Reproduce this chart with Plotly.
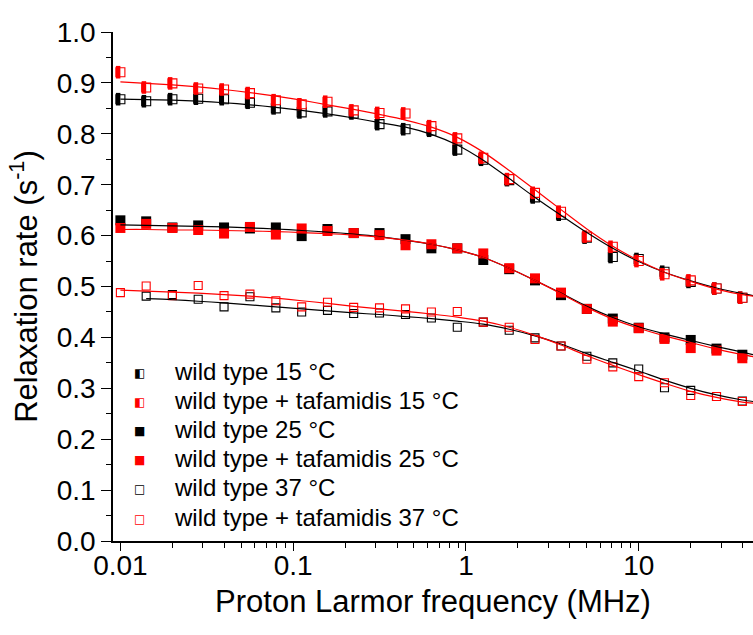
import plotly.graph_objects as go

# ---------------- data ----------------
freq_mhz = [0.01, 0.0141, 0.02, 0.0282, 0.0398, 0.0562, 0.0794, 0.112, 0.158, 0.224,
            0.316, 0.447, 0.631, 0.891, 1.26, 1.78, 2.51, 3.55, 5.01, 7.08,
            10.0, 14.1, 20.0, 28.2, 39.8]

wt_15 = [0.868, 0.864, 0.868, 0.869, 0.868, 0.861, 0.850, 0.842, 0.844, 0.840,
         0.819, 0.809, 0.806, 0.769, 0.749, 0.709, 0.675, 0.641, 0.596, 0.558,
         0.554, 0.529, 0.509, 0.496, 0.478]
wt_taf_15 = [0.921, 0.891, 0.899, 0.889, 0.887, 0.880, 0.866, 0.858, 0.863, 0.846,
             0.841, 0.840, 0.815, 0.791, 0.753, 0.711, 0.684, 0.647, 0.598, 0.578,
             0.550, 0.524, 0.512, 0.496, 0.478]
wt_25 = [0.630, 0.628, 0.616, 0.620, 0.616, 0.614, 0.616, 0.599, 0.613, 0.605,
         0.605, 0.593, 0.575, 0.575, 0.552, 0.534, 0.512, 0.483, 0.456, 0.437,
         0.419, 0.400, 0.395, 0.378, 0.366]
wt_taf_25 = [0.615, 0.623, 0.615, 0.611, 0.604, 0.617, 0.602, 0.614, 0.609, 0.605,
             0.601, 0.581, 0.583, 0.575, 0.565, 0.536, 0.516, 0.488, 0.456, 0.431,
             0.418, 0.397, 0.379, 0.374, 0.359]
wt_37 = [None, 0.481, 0.484, 0.475, 0.460, 0.480, 0.458, 0.450, 0.453, 0.447,
         0.448, 0.445, 0.438, 0.420, 0.430, 0.414, 0.399, 0.383, 0.363, 0.350,
         0.338, 0.301, 0.296, 0.284, 0.275]
wt_taf_37 = [0.488, 0.501, 0.482, 0.502, 0.482, 0.485, 0.472, 0.460, 0.469, 0.459,
             0.458, 0.456, 0.450, 0.451, 0.430, 0.420, 0.396, 0.383, 0.357, 0.342,
             0.323, 0.311, 0.286, 0.284, 0.274]

# fitted curves
fit_freq_mhz = [0.01, 0.0141, 0.02, 0.0282, 0.0398, 0.0562, 0.0794, 0.112, 0.158, 0.224,
                0.316, 0.447, 0.631, 0.891, 1.26, 1.78, 2.51, 3.55, 5.01, 7.08,
                10.0, 14.1, 20.0, 28.2, 39.8, 46.0]
fit_wt_15 = [0.868, 0.867, 0.866, 0.864, 0.861, 0.857, 0.852, 0.846, 0.839, 0.831,
             0.822, 0.813, 0.799, 0.778, 0.748, 0.712, 0.675, 0.640, 0.606, 0.575,
             0.549, 0.528, 0.511, 0.497, 0.486, 0.482]
fit_wt_taf_15 = [0.902, 0.899, 0.896, 0.892, 0.887, 0.881, 0.874, 0.866, 0.857, 0.848,
                 0.838, 0.827, 0.813, 0.793, 0.764, 0.728, 0.690, 0.651, 0.613, 0.579,
                 0.551, 0.528, 0.510, 0.495, 0.484, 0.481]
fit_wt_25 = [0.621, 0.620, 0.619, 0.618, 0.617, 0.615, 0.613, 0.610, 0.607, 0.603,
             0.598, 0.591, 0.583, 0.572, 0.557, 0.536, 0.512, 0.487, 0.461, 0.439,
             0.421, 0.407, 0.394, 0.382, 0.371, 0.366]
fit_wt_taf_25 = [0.612, 0.612, 0.611, 0.611, 0.610, 0.609, 0.608, 0.606, 0.604, 0.601,
                 0.597, 0.591, 0.583, 0.572, 0.557, 0.536, 0.512, 0.486, 0.459, 0.436,
                 0.418, 0.403, 0.390, 0.377, 0.366, 0.362]
fit_wt_37 = [None, 0.476, 0.474, 0.471, 0.468, 0.464, 0.460, 0.456, 0.452, 0.448,
             0.445, 0.441, 0.437, 0.432, 0.426, 0.416, 0.403, 0.387, 0.368, 0.351,
             0.334, 0.316, 0.300, 0.287, 0.277, 0.274]
fit_wt_taf_37 = [0.493, 0.491, 0.489, 0.487, 0.484, 0.481, 0.477, 0.472, 0.467, 0.461,
                 0.456, 0.451, 0.446, 0.440, 0.432, 0.420, 0.404, 0.385, 0.364, 0.345,
                 0.327, 0.310, 0.294, 0.282, 0.273, 0.271]

legend_labels = ["wild type 15 °C", "wild type + tafamidis 15 °C",
                 "wild type 25 °C", "wild type + tafamidis 25 °C",
                 "wild type 37 °C", "wild type + tafamidis 37 °C"]
legend_glyphs = ["◧", "◧", "■", "■", "□", "□"]
legend_colors = ["#000000", "#ff0000", "#000000", "#ff0000", "#000000", "#ff0000"]

x_tickvals = [0.01, 0.1, 1, 10]
x_ticktext = ["0.01", "0.1", "1", "10"]
x_minor_vals = [m * d for d in (0.01, 0.1, 1, 10) for m in range(2, 10)]

BLACK = "#000000"
RED = "#ff0000"
FONT = "Liberation Sans, Arial, sans-serif"

fig = go.Figure()


def half_filled(y, color, name):
    # white square with coloured border
    fig.add_trace(go.Scatter(x=freq_mhz, y=y, mode="markers", name=name, showlegend=False,
                             marker=dict(symbol="square", size=9, color="white",
                                         line=dict(color=color, width=1.1))))
    # left half filled (vertical bar shifted left)
    fig.add_trace(go.Scatter(x=freq_mhz, y=y, mode="markers", showlegend=False, hoverinfo="skip",
                             marker=dict(symbol="line-ew", size=9, color=color, angle=90,
                                         standoff=2.25, line=dict(color=color, width=4.5))))


half_filled(wt_15, BLACK, legend_labels[0])
half_filled(wt_taf_15, RED, legend_labels[1])
for y, c, n in [(wt_25, BLACK, legend_labels[2]), (wt_taf_25, RED, legend_labels[3])]:
    fig.add_trace(go.Scatter(x=freq_mhz, y=y, mode="markers", name=n, showlegend=False,
                             marker=dict(symbol="square", size=10, color=c, line=dict(width=0))))
for y, c, n in [(wt_37, BLACK, legend_labels[4]), (wt_taf_37, RED, legend_labels[5])]:
    fig.add_trace(go.Scatter(x=freq_mhz, y=y, mode="markers", name=n, showlegend=False,
                             marker=dict(symbol="square-open", size=8, color=c,
                                         line=dict(color=c, width=1.1))))

for y, c in [(fit_wt_15, BLACK), (fit_wt_taf_15, RED), (fit_wt_25, BLACK),
             (fit_wt_taf_25, RED), (fit_wt_37, BLACK), (fit_wt_taf_37, RED)]:
    fig.add_trace(go.Scatter(x=fit_freq_mhz, y=y, mode="lines", showlegend=False, hoverinfo="skip",
                             line=dict(color=c, width=1.2, shape="spline", smoothing=0.8)))

# ---------------- legend drawn as text ----------------
L, R, T, B = 113.3, 753.0, 31.7, 541.0
row_px = [373.3, 401.7, 430.7, 460.0, 489.0, 519.0]
sym_x_px, txt_x_px = 139.3, 172.0
for lab, gl, col, py in zip(legend_labels, legend_glyphs, legend_colors, row_px):
    fig.add_annotation(xref="paper", yref="paper", x=(sym_x_px - L) / (R - L), y=(B - py) / (B - T),
                       text=gl, showarrow=False, xanchor="center", yanchor="middle",
                       font=dict(family="DejaVu Sans", size=12, color=col))
    fig.add_annotation(xref="paper", yref="paper", x=(txt_x_px - L) / (R - L), y=(B - py + 1.5) / (B - T),
                       text=lab, showarrow=False, xanchor="left", yanchor="middle",
                       font=dict(family=FONT, size=24, color=BLACK))

fig.update_layout(
    width=753, height=635,
    margin=dict(l=L, r=0, t=T, b=635 - B, pad=0),
    paper_bgcolor="white", plot_bgcolor="white",
    showlegend=False,
    font=dict(family=FONT, color=BLACK),
)
fig.update_xaxes(
    type="log", range=[-2.0428, 1.6615],
    showline=True, linecolor=BLACK, linewidth=1.5, mirror=False,
    showgrid=False, zeroline=False,
    ticks="outside", ticklen=8, tickwidth=1.3, tickcolor=BLACK,
    tickvals=x_tickvals, ticktext=x_ticktext, ticklabelstandoff=-9,
    tickfont=dict(family=FONT, size=28, color=BLACK),
    minor=dict(ticks="outside", ticklen=5, tickwidth=1.3, tickcolor=BLACK,
               tickvals=x_minor_vals, showgrid=False),
    title=dict(text="Proton Larmor frequency (MHz)", font=dict(family=FONT, size=31, color=BLACK),
               standoff=10),
)
fig.update_yaxes(
    range=[0, 1.0], dtick=0.1, tick0=0, tickformat=".1f",
    showline=True, linecolor=BLACK, linewidth=1.5, mirror=False,
    showgrid=False, zeroline=False,
    ticks="outside", ticklen=10, tickwidth=1.3, tickcolor=BLACK,
    tickfont=dict(family=FONT, size=28, color=BLACK),
    minor=dict(ticks="outside", ticklen=5, tickwidth=1.3, tickcolor=BLACK, dtick=0.05, showgrid=False),
    title=dict(text="Relaxation rate (s<sup>-1</sup>)", font=dict(family=FONT, size=31, color=BLACK),
               standoff=10),
)

fig.write_html("out.html")
